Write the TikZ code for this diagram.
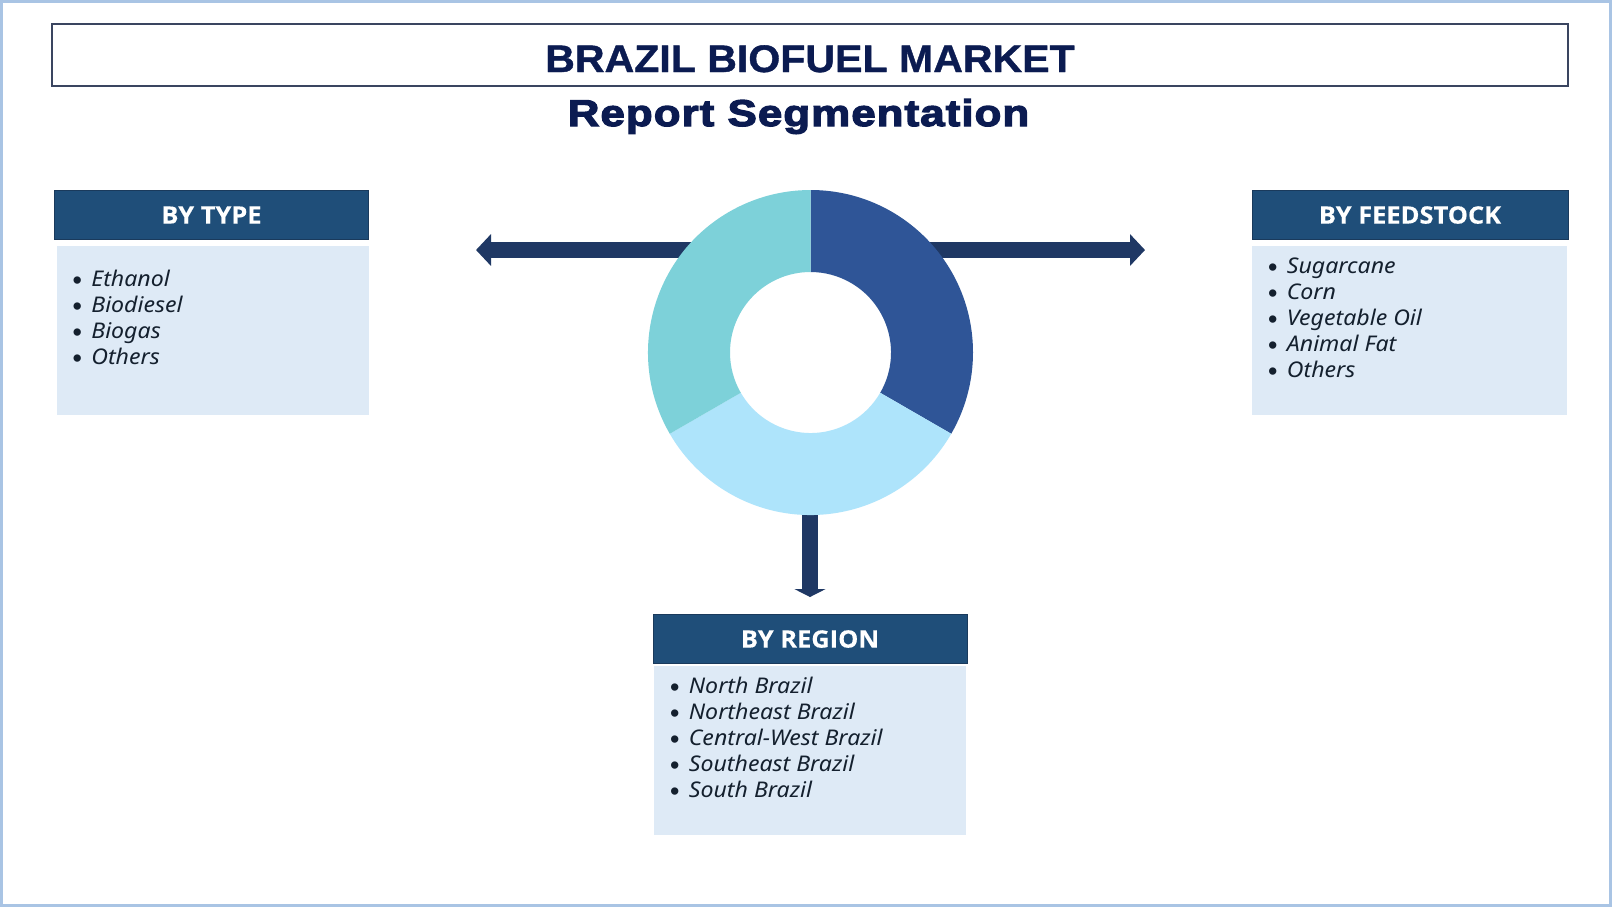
\documentclass[tikz,border=0pt]{standalone}
\usepackage{fontspec}
\usetikzlibrary{arrows.meta}
\setmainfont{Noto Sans}[FakeStretch=1.07]
\newfontfamily\ttlfont[FakeBold=1.0,FakeStretch=1.07]{Liberation Sans Bold}
\newfontfamily\repfont[FakeBold=3.4,FakeStretch=1.18,LetterSpace=2.8]{Liberation Sans Bold}
\newfontfamily\headfont[FakeBold=0.2,FakeStretch=1.06]{Open Sans Bold}
\newfontfamily\bulletfont{Liberation Sans}
\definecolor{frameblue}{HTML}{A9C4E4}
\definecolor{titleink}{HTML}{0B1B51}
\definecolor{titleedge}{HTML}{3A4560}
\definecolor{headblue}{HTML}{1F4E79}
\definecolor{headedge}{HTML}{1A3A5C}
\definecolor{bodyblue}{HTML}{DEEAF6}
\definecolor{arrowblue}{HTML}{1F3864}
\definecolor{segdark}{HTML}{2F5597}
\definecolor{seglight}{HTML}{AEE4FB}
\definecolor{segteal}{HTML}{7DD1D9}
\definecolor{listink}{HTML}{14202E}
\tikzset{
  x=0.5pt,y=-0.5pt,
  header/.style={draw=headedge,line width=0.5pt,fill=headblue,text=white,inner sep=0pt,
    minimum height=24.5pt,font=\headfont\fontsize{12}{14}\selectfont},
  bodybox/.style={fill=bodyblue,inner sep=0pt,minimum height=84.5pt},
  listitem/.style={anchor=base west,inner sep=0pt,text=listink,font=\itshape\fontsize{10.8}{13}\selectfont},
  flow/.style={arrowblue,line width=8pt,-{Triangle[length=7.5pt,width=15.5pt]}},
  flowdown/.style={arrowblue,line width=8pt,-{Triangle[length=4pt,width=15.5pt]}},
}
\newcommand{\segitem}[1]{\makebox[0pt][r]{\raisebox{-1.5pt}{\bulletfont\fontsize{13.5}{14}\selectfont\textbullet}\hspace{4.8pt}}\textit{#1}}
\begin{document}
\begin{tikzpicture}
\useasboundingbox (0,0) rectangle (1612,907);
\draw[frameblue,line width=1.5pt,fill=white] (1,1.5) rectangle (1610.5,905.5);
% title
\node[draw=titleedge,line width=0.6pt,minimum width=758pt,minimum height=31pt,inner sep=0pt] (titlebox) at (810,55) {};
\node[text=titleink,inner sep=0pt,anchor=base,font=\ttlfont\fontsize{19.2}{23}\selectfont] (title) at (810,72) {BRAZIL BIOFUEL MARKET};
\node[text=titleink,inner sep=0pt,anchor=base,font=\repfont\fontsize{18.6}{23}\selectfont] (subtitle) at (798.5,126) {Report Segmentation};
% centre reference
\coordinate (hub) at (810.5,352.5);
\coordinate (hubleft) at (760,250);
\coordinate (hubright) at (860,250);
\coordinate (hubdown) at (810,500);
\coordinate (endleft) at (476,250);
\coordinate (endright) at (1145,250);
\coordinate (enddown) at (810,597);
\draw[flow] (hubleft) -- (endleft);
\draw[flow] (hubright) -- (endright);
\draw[flowdown] (hubdown) -- (enddown);
% donut
\fill[segdark] (hub) ++(90:81.25pt) arc[start angle=90,end angle=-30,radius=81.25pt] -- ++(150:41pt) arc[start angle=-30,end angle=90,radius=40.25pt] -- cycle;
\fill[seglight] (hub) ++(-30:81.25pt) arc[start angle=-30,end angle=-150,radius=81.25pt] -- ++(30:41pt) arc[start angle=-150,end angle=-30,radius=40.25pt] -- cycle;
\fill[segteal] (hub) ++(210:81.25pt) arc[start angle=210,end angle=90,radius=81.25pt] -- ++(-90:41pt) arc[start angle=90,end angle=210,radius=40.25pt] -- cycle;
% by type
\node[header,minimum width=157pt] (typehead) at (211.5,215) {BY TYPE};
\node[bodybox,minimum width=156pt] (typebody) at (213,330.5) {};
\node[listitem] (t1) at (91,286) {\segitem{Ethanol}};
\node[listitem] (t2) at (91,312.2) {\segitem{Biodiesel}};
\node[listitem] (t3) at (91,338.4) {\segitem{Biogas}};
\node[listitem] (t4) at (91,364.6) {\segitem{Others}};
% by feedstock
\node[header,minimum width=158pt] (feedhead) at (1410,215) {BY FEEDSTOCK};
\node[bodybox,minimum width=157.5pt] (feedbody) at (1409.5,330.5) {};
\node[listitem] (f1) at (1286.5,273) {\segitem{Sugarcane}};
\node[listitem] (f2) at (1286.5,299.2) {\segitem{Corn}};
\node[listitem] (f3) at (1286.5,325.4) {\segitem{Vegetable Oil}};
\node[listitem] (f4) at (1286.5,351.6) {\segitem{Animal Fat}};
\node[listitem] (f5) at (1286.5,377.8) {\segitem{Others}};
% by region
\node[header,minimum width=157pt] (reghead) at (810,639) {BY REGION};
\node[bodybox,minimum width=156pt,minimum height=84.5pt] (regbody) at (810,750.5) {};
\node[listitem] (r1) at (688.5,693) {\segitem{North Brazil}};
\node[listitem] (r2) at (688.5,719.2) {\segitem{Northeast Brazil}};
\node[listitem] (r3) at (688.5,745.4) {\segitem{Central-West Brazil}};
\node[listitem] (r4) at (688.5,771.6) {\segitem{Southeast Brazil}};
\node[listitem] (r5) at (688.5,797.8) {\segitem{South Brazil}};
\end{tikzpicture}
\end{document}
